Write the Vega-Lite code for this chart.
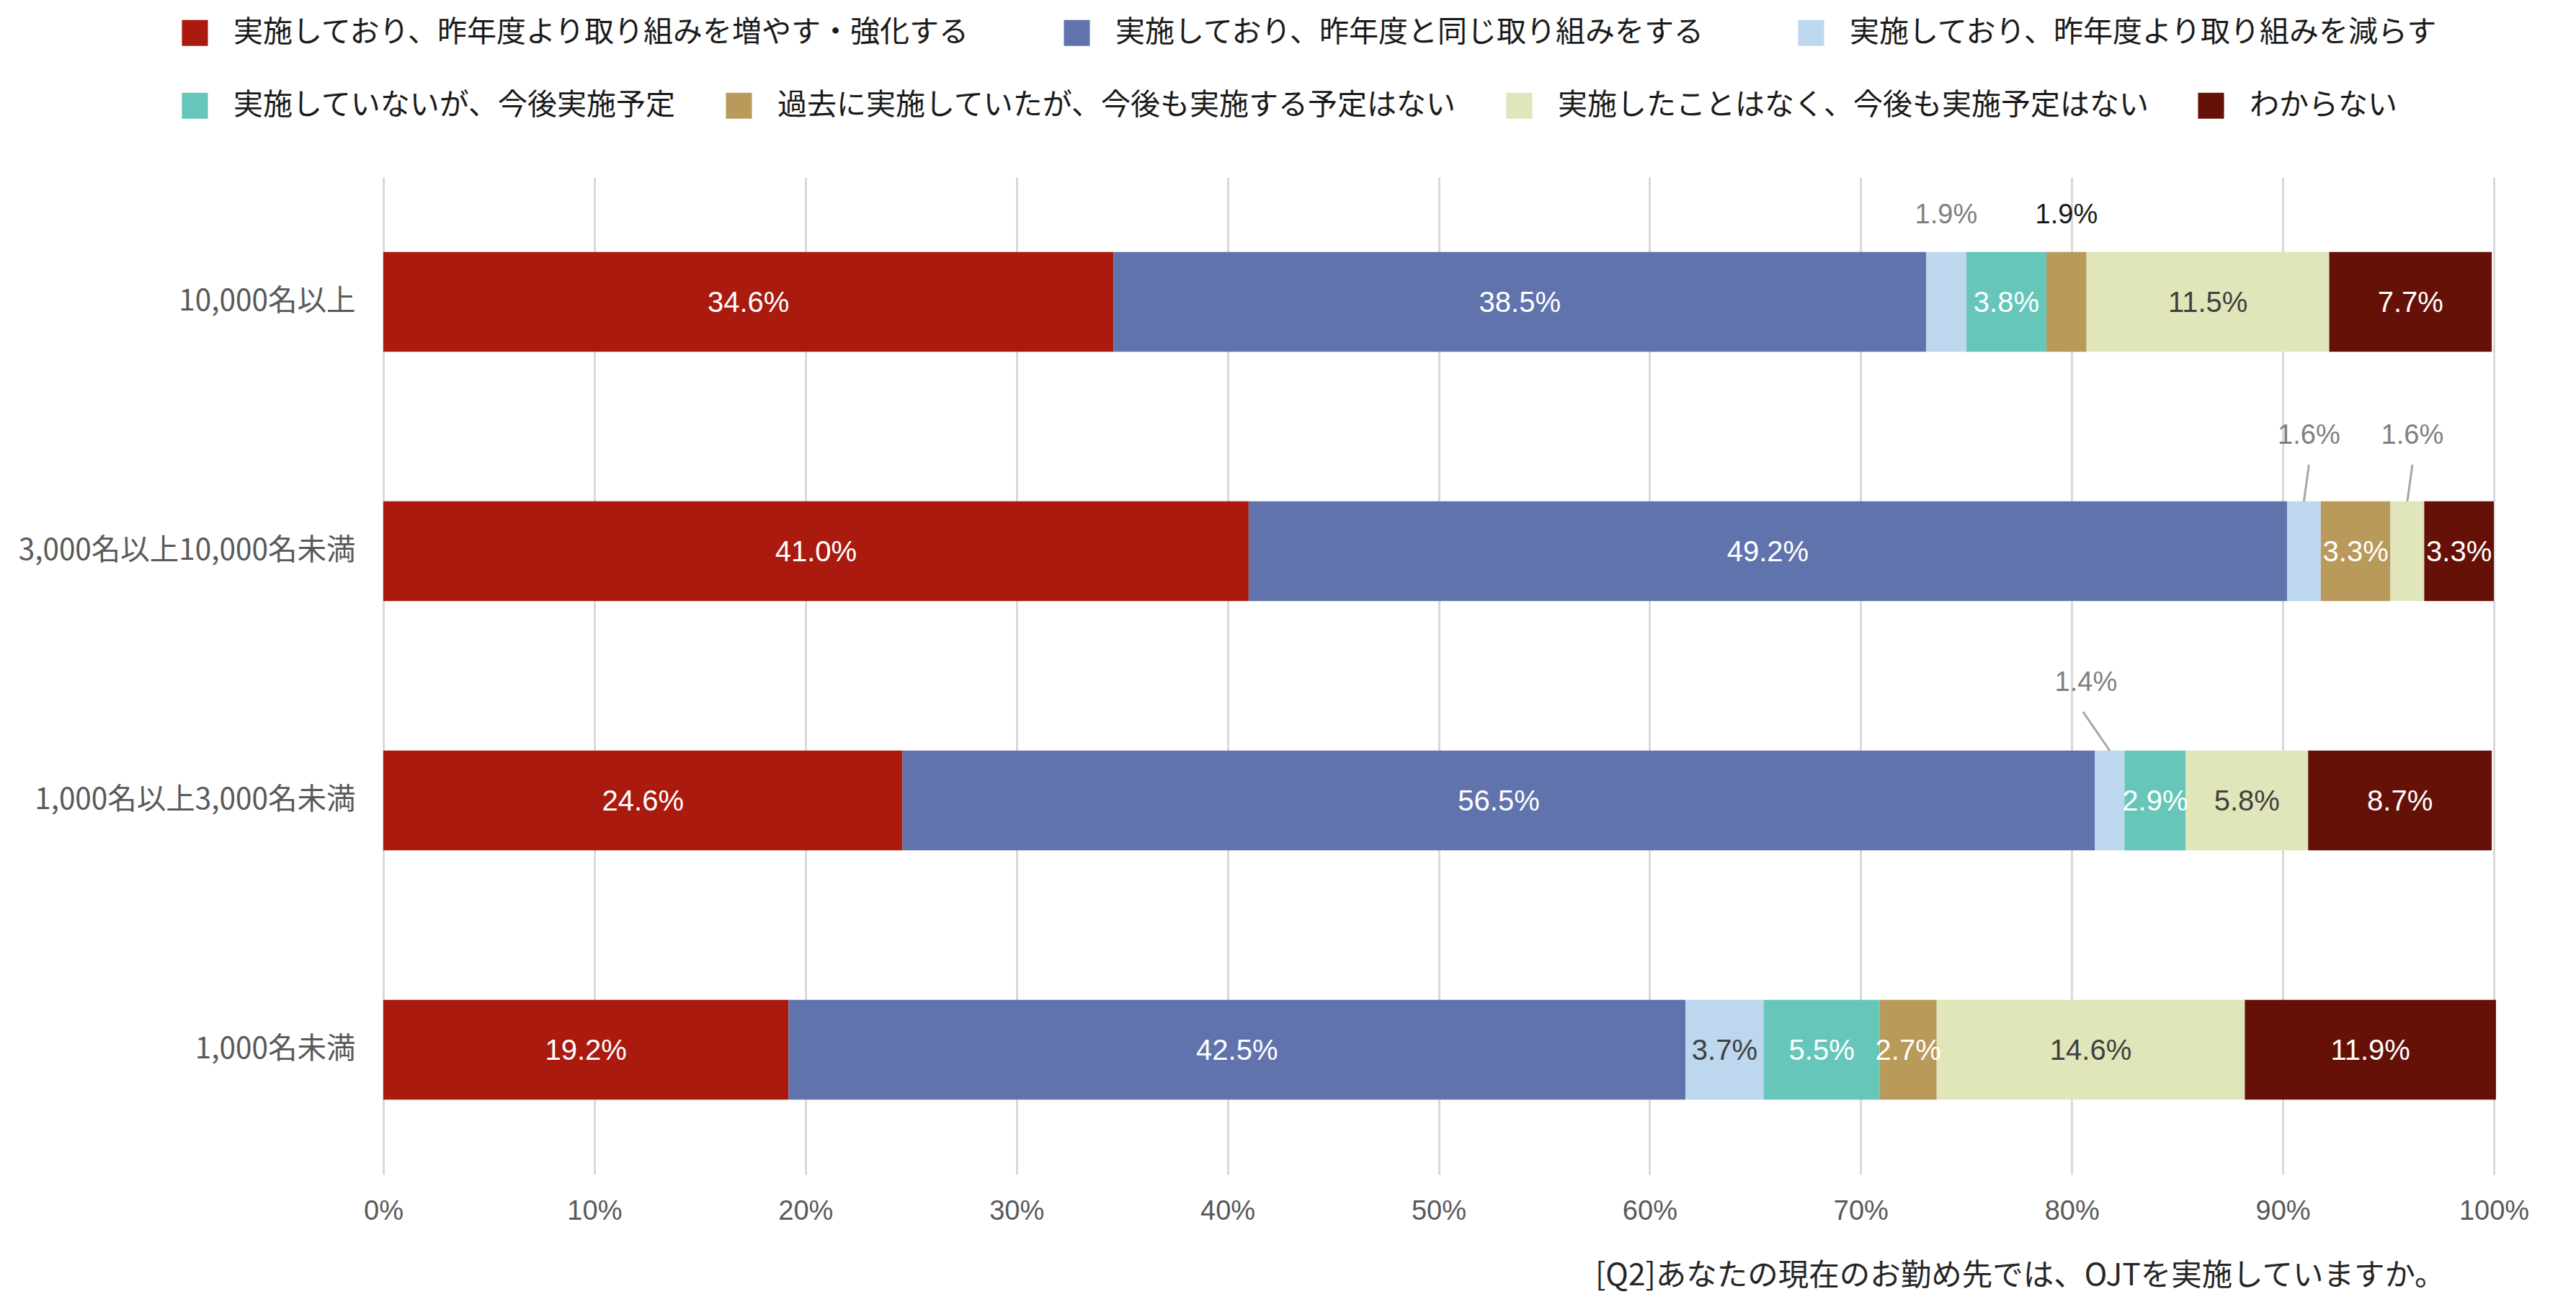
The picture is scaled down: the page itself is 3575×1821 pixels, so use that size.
{
  "$schema": "https://vega.github.io/schema/vega-lite/v6.json",
  "width": 2929,
  "height": 1384,
  "autosize": {"type": "none"},
  "padding": {"left": 532, "top": 246, "right": 114, "bottom": 191},
  "background": "white",
  "config": {"view": {"stroke": null}, "font": "Noto Sans CJK JP"},
  "title": {
    "text": "[Q2]あなたの現在のお勤め先では、OJTを実施していますか。",
    "orient": "bottom",
    "anchor": "end",
    "fontSize": 42.5,
    "fontWeight": "normal",
    "color": "#262626",
    "font": "Noto Sans CJK JP",
    "offset": 50,
    "dx": -116
  },
  "data": {
    "values": [
      {"group": "10,000名以上", "category": "実施しており、昨年度より取り組みを増やす・強化する", "order": 1, "value": 34.6},
      {"group": "10,000名以上", "category": "実施しており、昨年度と同じ取り組みをする", "order": 2, "value": 38.5},
      {"group": "10,000名以上", "category": "実施しており、昨年度より取り組みを減らす", "order": 3, "value": 1.9},
      {"group": "10,000名以上", "category": "実施していないが、今後実施予定", "order": 4, "value": 3.8},
      {"group": "10,000名以上", "category": "過去に実施していたが、今後も実施する予定はない", "order": 5, "value": 1.9},
      {"group": "10,000名以上", "category": "実施したことはなく、今後も実施予定はない", "order": 6, "value": 11.5},
      {"group": "10,000名以上", "category": "わからない", "order": 7, "value": 7.7},
      {"group": "3,000名以上10,000名未満", "category": "実施しており、昨年度より取り組みを増やす・強化する", "order": 1, "value": 41.0},
      {"group": "3,000名以上10,000名未満", "category": "実施しており、昨年度と同じ取り組みをする", "order": 2, "value": 49.2},
      {"group": "3,000名以上10,000名未満", "category": "実施しており、昨年度より取り組みを減らす", "order": 3, "value": 1.6},
      {"group": "3,000名以上10,000名未満", "category": "実施していないが、今後実施予定", "order": 4, "value": 0},
      {"group": "3,000名以上10,000名未満", "category": "過去に実施していたが、今後も実施する予定はない", "order": 5, "value": 3.3},
      {"group": "3,000名以上10,000名未満", "category": "実施したことはなく、今後も実施予定はない", "order": 6, "value": 1.6},
      {"group": "3,000名以上10,000名未満", "category": "わからない", "order": 7, "value": 3.3},
      {"group": "1,000名以上3,000名未満", "category": "実施しており、昨年度より取り組みを増やす・強化する", "order": 1, "value": 24.6},
      {"group": "1,000名以上3,000名未満", "category": "実施しており、昨年度と同じ取り組みをする", "order": 2, "value": 56.5},
      {"group": "1,000名以上3,000名未満", "category": "実施しており、昨年度より取り組みを減らす", "order": 3, "value": 1.4},
      {"group": "1,000名以上3,000名未満", "category": "実施していないが、今後実施予定", "order": 4, "value": 2.9},
      {"group": "1,000名以上3,000名未満", "category": "過去に実施していたが、今後も実施する予定はない", "order": 5, "value": 0},
      {"group": "1,000名以上3,000名未満", "category": "実施したことはなく、今後も実施予定はない", "order": 6, "value": 5.8},
      {"group": "1,000名以上3,000名未満", "category": "わからない", "order": 7, "value": 8.7},
      {"group": "1,000名未満", "category": "実施しており、昨年度より取り組みを増やす・強化する", "order": 1, "value": 19.2},
      {"group": "1,000名未満", "category": "実施しており、昨年度と同じ取り組みをする", "order": 2, "value": 42.5},
      {"group": "1,000名未満", "category": "実施しており、昨年度より取り組みを減らす", "order": 3, "value": 3.7},
      {"group": "1,000名未満", "category": "実施していないが、今後実施予定", "order": 4, "value": 5.5},
      {"group": "1,000名未満", "category": "過去に実施していたが、今後も実施する予定はない", "order": 5, "value": 2.7},
      {"group": "1,000名未満", "category": "実施したことはなく、今後も実施予定はない", "order": 6, "value": 14.6},
      {"group": "1,000名未満", "category": "わからない", "order": 7, "value": 11.9}
    ]
  },
  "transform": [
    {"stack": "value", "groupby": ["group"], "sort": [{"field": "order", "order": "ascending"}], "as": ["x0", "x1"]},
    {"calculate": "(datum.x0 + datum.x1) / 2", "as": "mid"},
    {"calculate": "format(datum.value, '.1f') + '%'", "as": "label"}
  ],
  "layer": [
    {
      "transform": [{"filter": "datum.order <= 3"}],
      "mark": {"type": "bar"},
      "encoding": {
        "y": {
          "field": "group", "type": "nominal",
          "sort": ["10,000名以上", "3,000名以上10,000名未満", "1,000名以上3,000名未満", "1,000名未満"],
          "scale": {"domain": ["10,000名以上", "3,000名以上10,000名未満", "1,000名以上3,000名未満", "1,000名未満"], "paddingInner": 0.6, "paddingOuter": 0.3},
          "axis": {"title": null, "domain": false, "ticks": false, "labelFont": "Noto Sans CJK JP", "labelFontSize": 40.5, "labelColor": "#595959", "labelPadding": 39, "labelLimit": 0, "grid": false}
        },
        "x": {
          "field": "x0", "type": "quantitative",
          "scale": {"domain": [0, 100], "nice": false},
          "axis": {"title": null, "domain": false, "ticks": false, "values": [0, 10, 20, 30, 40, 50, 60, 70, 80, 90, 100], "labelExpr": "datum.value + '%'", "labelFont": "Liberation Sans", "labelFontSize": 38, "labelColor": "#595959", "labelPadding": 32, "grid": true, "gridColor": "#D9D9D9", "gridWidth": 3, "labelFlush": false}
        },
        "x2": {"field": "x1"},
        "color": {
          "field": "category", "type": "nominal",
          "scale": {
            "domain": ["実施しており、昨年度より取り組みを増やす・強化する", "実施しており、昨年度と同じ取り組みをする", "実施しており、昨年度より取り組みを減らす"],
            "range": ["#AA1A0F", "#6173AD", "#BDD7EE"]
          },
          "legend": {"orient": "none", "legendX": -282, "legendY": -221, "direction": "horizontal", "columns": 3, "title": null, "labelFontSize": 41, "labelFont": "Noto Sans CJK JP", "labelColor": "#1a1a1a", "symbolType": "square", "symbolSize": 1300, "symbolStrokeWidth": 0, "symbolOpacity": 1, "labelOffset": 33, "columnPadding": 126, "labelLimit": 0}
        }
      }
    },
    {
      "transform": [{"filter": "datum.order >= 4"}],
      "mark": {"type": "bar"},
      "encoding": {
        "y": {"field": "group", "type": "nominal", "title": null},
        "x": {"field": "x0", "type": "quantitative", "title": null},
        "x2": {"field": "x1"},
        "color": {
          "field": "category", "type": "nominal",
          "scale": {
            "domain": ["実施していないが、今後実施予定", "過去に実施していたが、今後も実施する予定はない", "実施したことはなく、今後も実施予定はない", "わからない"],
            "range": ["#66C6B9", "#B99A5B", "#E0E6B9", "#661108"]
          },
          "legend": {"orient": "none", "legendX": -282, "legendY": -120, "direction": "horizontal", "columns": 4, "title": null, "labelFontSize": 41, "labelFont": "Noto Sans CJK JP", "labelColor": "#1a1a1a", "symbolType": "square", "symbolSize": 1300, "symbolStrokeWidth": 0, "symbolOpacity": 1, "labelOffset": 33, "columnPadding": 66, "labelLimit": 0}
        }
      }
    },
    {
      "transform": [{"filter": "datum.value >= 2"}],
      "mark": {"type": "text", "font": "Liberation Sans", "fontSize": 40, "align": "center", "baseline": "middle", "dy": 2},
      "encoding": {
        "y": {"field": "group", "type": "nominal", "title": null},
        "x": {"field": "mid", "type": "quantitative", "title": null},
        "text": {"field": "label"},
        "color": {
          "condition": {"test": "datum.order === 3 || datum.order === 6", "value": "#404040"},
          "value": "#FFFFFF"
        }
      }
    },
    {
      "transform": [{"filter": "datum.value > 0 && datum.value < 2 && datum.group === '10,000名以上'"}],
      "mark": {"type": "text", "font": "Liberation Sans", "fontSize": 38, "align": "center", "baseline": "middle", "dy": -120},
      "encoding": {
        "y": {"field": "group", "type": "nominal", "title": null},
        "x": {"field": "mid", "type": "quantitative", "title": null},
        "text": {"field": "label"},
        "color": {
          "condition": {"test": "datum.order === 5", "value": "#1a1a1a"},
          "value": "#7F7F7F"
        }
      }
    },
    {
      "transform": [{"filter": "datum.value > 0 && datum.value < 2 && datum.group === '3,000名以上10,000名未満'"}],
      "mark": {"type": "text", "font": "Liberation Sans", "fontSize": 38, "align": "center", "baseline": "middle", "dy": -160, "dx": 7, "color": "#7F7F7F"},
      "encoding": {
        "y": {"field": "group", "type": "nominal", "title": null},
        "x": {"field": "mid", "type": "quantitative", "title": null},
        "text": {"field": "label"}
      }
    },
    {
      "transform": [{"filter": "datum.value > 0 && datum.value < 2 && datum.group === '1,000名以上3,000名未満'"}],
      "mark": {"type": "text", "font": "Liberation Sans", "fontSize": 38, "align": "center", "baseline": "middle", "dy": -163, "dx": -33, "color": "#7F7F7F"},
      "encoding": {
        "y": {"field": "group", "type": "nominal", "title": null},
        "x": {"field": "mid", "type": "quantitative", "title": null},
        "text": {"field": "label"}
      }
    },
    {
      "transform": [{"filter": "datum.value > 0 && datum.value < 2 && datum.group === '3,000名以上10,000名未満'"}],
      "mark": {"type": "rule", "color": "#A6A6A6", "strokeWidth": 3, "yOffset": -69, "y2Offset": -120, "x2Offset": 7},
      "encoding": {
        "y": {"field": "group", "type": "nominal", "title": null},
        "y2": {"field": "group"},
        "x": {"field": "mid", "type": "quantitative", "title": null},
        "x2": {"field": "mid"}
      }
    },
    {
      "transform": [{"filter": "datum.value > 0 && datum.value < 2 && datum.group === '1,000名以上3,000名未満'"}],
      "mark": {"type": "rule", "color": "#A6A6A6", "strokeWidth": 3, "yOffset": -69, "y2Offset": -123, "x2Offset": -37},
      "encoding": {
        "y": {"field": "group", "type": "nominal", "title": null},
        "y2": {"field": "group"},
        "x": {"field": "mid", "type": "quantitative", "title": null},
        "x2": {"field": "mid"}
      }
    }
  ],
  "resolve": {"scale": {"color": "independent"}}
}
